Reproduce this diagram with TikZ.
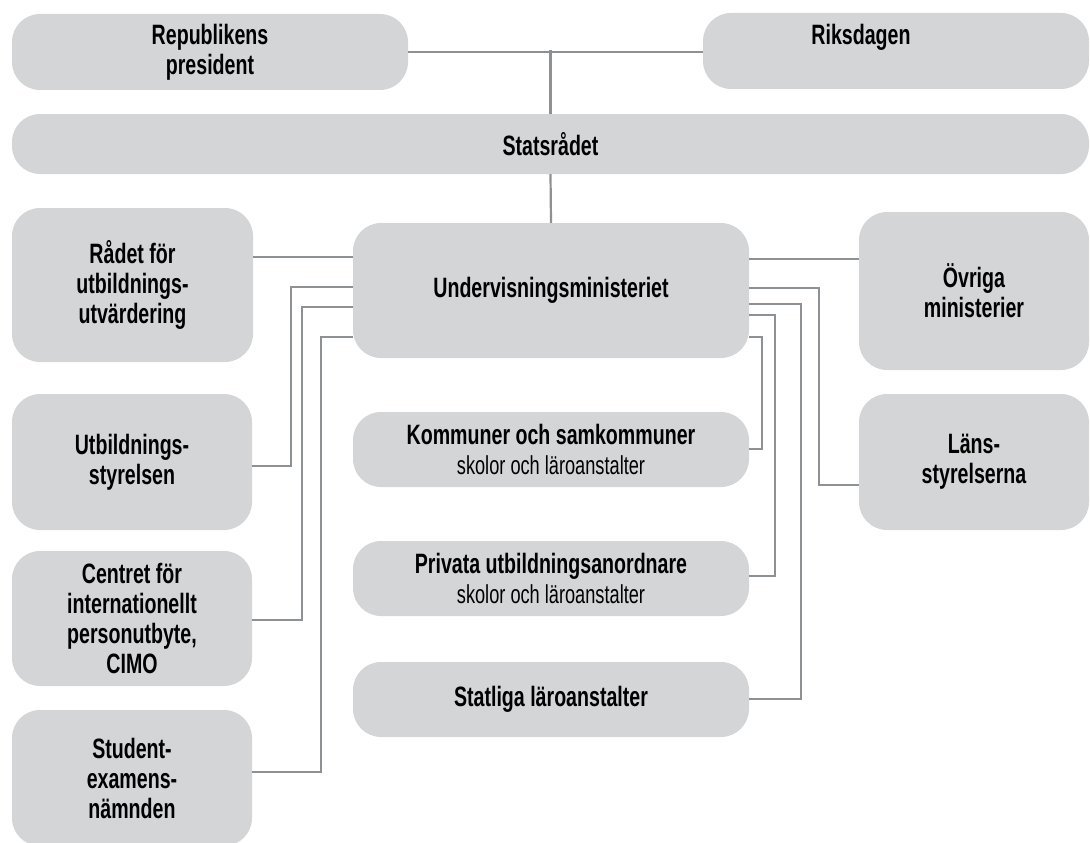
\documentclass[tikz,border=0pt]{standalone}
\usepackage{fontspec}
\setmainfont{Liberation Sans}[FakeStretch=0.7]
\definecolor{boxgray}{HTML}{D4D5D7}
\definecolor{linegray}{HTML}{8E9194}

\begin{document}
\begin{tikzpicture}[x=1pt,y=-1pt]
    \tikzstyle{title}=[font=\fontsize{28}{30}\selectfont\bfseries,align=center,inner sep=0pt]
    \tikzstyle{box}=[title,fill=boxgray,rounded corners=28pt]
    \tikzstyle{link}=[draw,line width=2.2pt,linegray]
    \useasboundingbox (0,0) rectangle (1090,843);
    % top row
    \node[box,minimum width=396,minimum height=76] (pres) at (210,52) {Republikens\\president};
    \node[box,minimum width=386,minimum height=76] (riks) at (896,51) {};
    \node[title] (riksText) at (861,37) {Riksdagen};
    \node[box,minimum width=1077,minimum height=60] (stat) at (550.5,144) {Statsrådet};
    \node[box,minimum width=396,minimum height=135] (under) at (551,290.5) {Undervisningsministeriet};
    % left column
    \node[box,minimum width=241,minimum height=154] (radet) at (132.5,285) {Rådet för\\utbildnings-\\utvärdering};
    \node[box,minimum width=240,minimum height=136] (utb) at (132,462) {Utbildnings-\\styrelsen};
    \node[box,minimum width=240,minimum height=135] (cimo) at (132,618.5) {Centret för\\internationellt\\personutbyte,\\CIMO};
    \node[box,minimum width=240,minimum height=136] (stud) at (132,778) {Student-\\examens-\\nämnden};
    % middle column
    \node[box,minimum width=396,minimum height=75] (komm) at (551,449.5) {Kommuner och samkommuner\\{\mdseries\fontsize{26}{30}\selectfont skolor och läroanstalter}};
    \node[box,minimum width=396,minimum height=75] (priv) at (551,578.5) {Privata utbildningsanordnare\\{\mdseries\fontsize{26}{30}\selectfont skolor och läroanstalter}};
    \node[box,minimum width=396,minimum height=75] (statl) at (551,699.5) {Statliga läroanstalter};
    % right column
    \node[box,minimum width=230,minimum height=158] (ovr) at (974,291) {Övriga\\ministerier};
    \node[box,minimum width=230,minimum height=136] (lans) at (974,462) {Läns-\\styrelserna};
    % connectors
    \draw[link] (pres.east |- 0,52) -- (riks.west |- 0,52);
    \draw[link] (stat.north) -- (stat.north |- 0,50);
    \draw[link] (stat.south) -- (under.north);
    \draw[link] (radet.east |- 0,257) -- (under.west |- 0,257);
    \draw[link] (utb.east |- 0,466) -| (291,287) -- (under.west |- 0,287);
    \draw[link] (cimo.east |- 0,620) -| (302,307) -- (under.west |- 0,307);
    \draw[link] (stud.east |- 0,772) -| (321,337) -- (under.west |- 0,337);
    \draw[link] (under.east |- 0,259) -- (ovr.west |- 0,259);
    \draw[link] (under.east |- 0,288) -| (819,485) -- (lans.west |- 0,485);
    \draw[link] (under.east |- 0,304) -| (801,699) -- (statl.east |- 0,699);
    \draw[link] (under.east |- 0,315) -| (775,576) -- (priv.east |- 0,576);
    \draw[link] (under.east |- 0,337) -| (762,449) -- (komm.east |- 0,449);
\end{tikzpicture}
\end{document}
